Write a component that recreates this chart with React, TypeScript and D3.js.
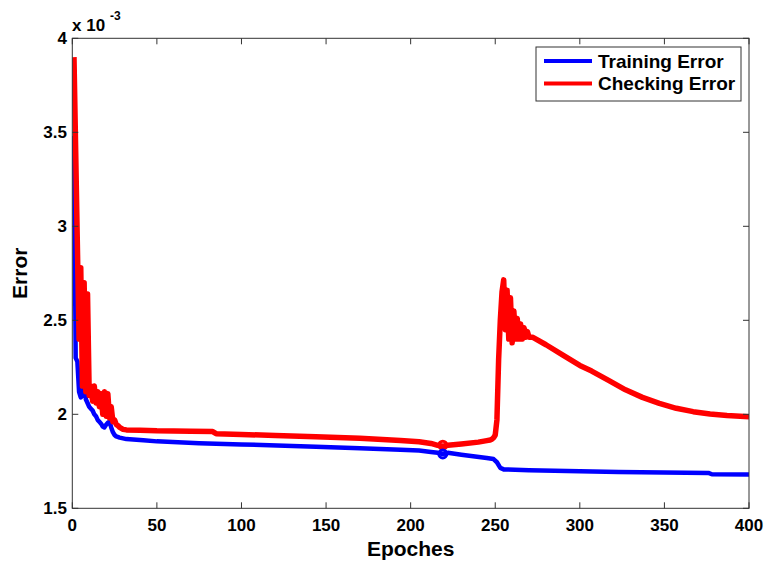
import React from "react";
import * as d3 from "d3";

// Values are in units of 1e-3 (axis multiplier "x 10^-3")
const checkEpochs = [1,2,3,4,5,6,7,8,9,10,11,12,13,14,15,16,17,18,19,20,21,22,23,24,25,26,27,28,30,32,40,50,60,70,83,85,100,120,144,170,194,205,212,216,219,222,230,240,245,247,248,249,250,251,252,253,254,255,256,257,258,259,260,261,262,263,264,265,266,267,268,269,270,272,280,290,300,307,317,327,337,347,357,367,377,387,400];
const checkValues = [3.90,3.40,2.90,2.40,2.78,2.15,2.70,2.12,2.64,2.10,2.15,2.07,2.15,2.06,2.12,2.04,2.11,2.00,2.12,1.99,2.11,1.98,2.04,1.96,1.97,1.945,1.94,1.93,1.92,1.917,1.915,1.912,1.911,1.910,1.908,1.897,1.893,1.887,1.881,1.872,1.860,1.854,1.845,1.835,1.830,1.835,1.842,1.852,1.860,1.863,1.867,1.875,1.89,1.97,2.29,2.50,2.65,2.715,2.45,2.66,2.40,2.62,2.38,2.55,2.40,2.51,2.40,2.48,2.40,2.46,2.41,2.44,2.41,2.41,2.37,2.315,2.26,2.23,2.18,2.13,2.09,2.058,2.032,2.014,2.002,1.994,1.987];

const trainEpochs = [1,2,3,4,5,6,7,8,9,10,11,12,13,14,15,16,17,18,19,20,21,22,23,24,25,26,28,32,42,50,75,100,144,170,194,205,212,216,219,222,230,245,249,251,253,255,270,300,323,376,378,400];
const trainValues = [3.48,2.30,2.28,2.12,2.09,2.10,2.25,2.08,2.06,2.04,2.03,2.02,2.00,1.99,1.97,1.96,1.95,1.935,1.93,1.945,1.955,1.96,1.93,1.905,1.89,1.882,1.876,1.868,1.862,1.856,1.846,1.840,1.828,1.820,1.812,1.807,1.800,1.795,1.789,1.795,1.785,1.768,1.762,1.745,1.715,1.707,1.703,1.697,1.693,1.688,1.681,1.680];

const bestEpoch = 219;
const bestCheck = 1.836;
const bestTrain = 1.789;

const xTicks = [0,50,100,150,200,250,300,350,400];
const yTicks = [1.5,2,2.5,3,3.5,4];
const seriesNames = ["Training Error","Checking Error"];
const seriesColors = ["#0000ff","#ff0000"];

const FONT = "'Liberation Sans', Arial, Helvetica, sans-serif";

export default function App() {
  const left = 72.3, right = 749, top = 38.3, bottom = 508.3;
  const x = d3.scaleLinear().domain([0, 400]).range([left, right]);
  const y = d3.scaleLinear().domain([1.5, 4]).range([bottom, top]);
  const line = d3.line<[number, number]>().x(d => x(d[0])).y(d => y(d[1]));
  const trainPts = trainEpochs.map((e, i) => [e, trainValues[i]] as [number, number]);
  const checkPts = checkEpochs.map((e, i) => [e, checkValues[i]] as [number, number]);
  const tickLen = 6;

  return (
    <svg width={770} height={564} style={{ position: "absolute", left: 0, top: 0, background: "#fff" }} fontFamily={FONT}>
      <defs>
        <clipPath id="plotclip">
          <rect x={left} y={top} width={right - left} height={bottom - top} />
        </clipPath>
      </defs>
      <rect x={0} y={0} width={770} height={564} fill="#fff" />
      <g clipPath="url(#plotclip)">
        <path d={line(trainPts) || ""} fill="none" stroke={seriesColors[0]} strokeWidth={4.5} strokeLinejoin="round" />
        <path d={line(checkPts) || ""} fill="none" stroke={seriesColors[1]} strokeWidth={5.5} strokeLinejoin="round" />
        <circle cx={x(bestEpoch)} cy={y(bestCheck)} r={4} fill="none" stroke={seriesColors[1]} strokeWidth={3} />
        <circle cx={x(bestEpoch)} cy={y(bestTrain)} r={4} fill="none" stroke={seriesColors[0]} strokeWidth={3} />
      </g>
      {/* axes box */}
      <rect x={left} y={top} width={right - left} height={bottom - top} fill="none" stroke="#333" strokeWidth={1} />
      {xTicks.map(t => (
        <g key={"xt" + t}>
          <line x1={x(t)} x2={x(t)} y1={bottom} y2={bottom - tickLen} stroke="#333" />
          <line x1={x(t)} x2={x(t)} y1={top} y2={top + tickLen} stroke="#333" />
          <text x={x(t)} y={531} textAnchor="middle" fontSize={17} fontWeight="bold">{t}</text>
        </g>
      ))}
      {yTicks.map(t => (
        <g key={"yt" + t}>
          <line x1={left} x2={left + tickLen} y1={y(t)} y2={y(t)} stroke="#333" />
          <line x1={right} x2={right - tickLen} y1={y(t)} y2={y(t)} stroke="#333" />
          <text x={67} y={y(t) + 6} textAnchor="end" fontSize={17} fontWeight="bold">{t}</text>
        </g>
      ))}
      <text x={72} y={31} fontSize={17} fontWeight="bold">x 10</text>
      <text x={110} y={20} fontSize={12} fontWeight="bold">-3</text>
      <text x={(left + right) / 2} y={556} textAnchor="middle" fontSize={21} fontWeight="bold">Epoches</text>
      <text transform={`translate(27,${(top + bottom) / 2}) rotate(-90)`} textAnchor="middle" fontSize={21} fontWeight="bold">Error</text>
      {/* legend */}
      <rect x={536} y={47} width={205} height={54} fill="#fff" stroke="#333" strokeWidth={1} />
      {seriesNames.map((n, i) => (
        <g key={n}>
          <line x1={544} x2={592} y1={61 + i * 22.5} y2={61 + i * 22.5} stroke={seriesColors[i]} strokeWidth={4} />
          <text x={598} y={61 + i * 22.5 + 6.5} fontSize={19} fontWeight="bold">{n}</text>
        </g>
      ))}
    </svg>
  );
}
